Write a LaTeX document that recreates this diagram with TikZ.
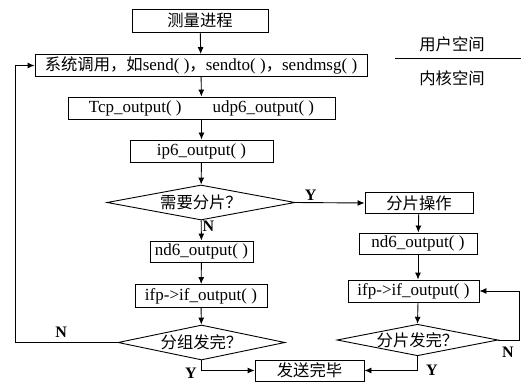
\documentclass[tikz,border=0pt]{standalone}
\usepackage{fontspec}
\setmainfont{Liberation Serif}
\newfontfamily\cjk[Scale=0.96]{Noto Sans CJK SC}
\usetikzlibrary{shapes.geometric,arrows.meta}
\newcommand\zh[1]{{\cjk #1}}
\begin{document}
\begin{tikzpicture}[x=1pt,y=-1pt,
  every node/.style={font=\fontsize{17}{19}\selectfont},
  box/.style={draw,line width=0.9pt,rectangle,inner sep=0pt},
  dec/.style={draw,line width=0.9pt,diamond,inner sep=0pt,shape aspect=5},
  arr/.style={line width=0.9pt,-{Latex[length=7pt,width=6pt]}},
  lbl/.style={font=\fontsize{16}{18}\selectfont\bfseries,inner sep=0pt}]
\useasboundingbox (0,0) rectangle (524,382);
\node[box,minimum width=136,minimum height=23] (m) at (200,20.5) {\zh{测量进程}};
\node[box,minimum width=332,minimum height=22] (sys) at (201,65.5) {\zh{系统调用，如}send( )\zh{，}sendto( )\zh{，}sendmsg( )};
\node[box,minimum width=267,minimum height=22] (tcp) at (201.5,108) {Tcp\_output( )\hspace{31pt}udp6\_output( )};
\node[box,minimum width=143,minimum height=22] (ip6) at (201.5,151) {ip6\_output( )};
\node[dec,minimum width=188,minimum height=35] (d1) at (201,202.5) {\zh{需要分片？}};
\node[box,minimum width=108,minimum height=21] (fp) at (419,203) {\zh{分片操作}};
\node[box,minimum width=103,minimum height=21] (nd1) at (201.5,251.5) {nd6\_output( )};
\node[box,minimum width=118,minimum height=21] (nd2) at (418,243.5) {nd6\_output( )};
\node[box,minimum width=132,minimum height=23] (ifp1) at (201,296) {ifp->if\_output( )};
\node[box,minimum width=131,minimum height=22] (ifp2) at (413.5,291) {ifp->if\_output( )};
\node[dec,minimum width=167,minimum height=35] (d2) at (201.5,342.5) {\zh{分组发完？}};
\node[dec,minimum width=161,minimum height=31] (d3) at (417.5,340) {\zh{分片发完？}};
\node[box,minimum width=109,minimum height=21] (done) at (309.5,370.5) {\zh{发送完毕}};
\node (us) at (452,44) {\zh{用户空间}};
\node (ks) at (452,78) {\zh{内核空间}};
\coordinate (la) at (395,58);
\coordinate (lb) at (521,58);
\draw[line width=0.9pt] (la) -- (lb);
\draw[arr] (m) -- (sys);
\draw[arr] (sys) -- (tcp);
\draw[arr] (tcp) -- (ip6);
\draw[arr] (ip6) -- (d1);
\draw[arr] (d1) -- node[pos=0.3,right=1pt,lbl]{N} (nd1);
\draw[arr] (nd1) -- (ifp1);
\draw[arr] (ifp1) -- (d2);
\draw[arr] (d1.east) -- node[pos=0.22,above=2pt,lbl]{Y} (fp.west);
\draw[arr] (fp) -- (nd2);
\draw[arr] (nd2.south) -- (nd2.south |- ifp2.north);
\draw[arr] (nd2.south |- ifp2.south) -- (d3.north);
\coordinate (lx) at (15,342.5);
\draw[arr] (d2.west) -- node[pos=0.55,above=5pt,lbl]{N} (lx) |- (sys.west);
\coordinate (rx) at (519,340);
\draw[arr] (d3.east) -- (rx) |- (ifp2.east);
\node[lbl] (nr) at (508,352) {N};
\draw[arr] (d2.south) |- (done.west);
\node[lbl] (yl) at (191,373.5) {Y};
\draw[arr] (d3.south) |- (done.east);
\node[lbl] (yr) at (432,370) {Y};
\end{tikzpicture}
\end{document}
